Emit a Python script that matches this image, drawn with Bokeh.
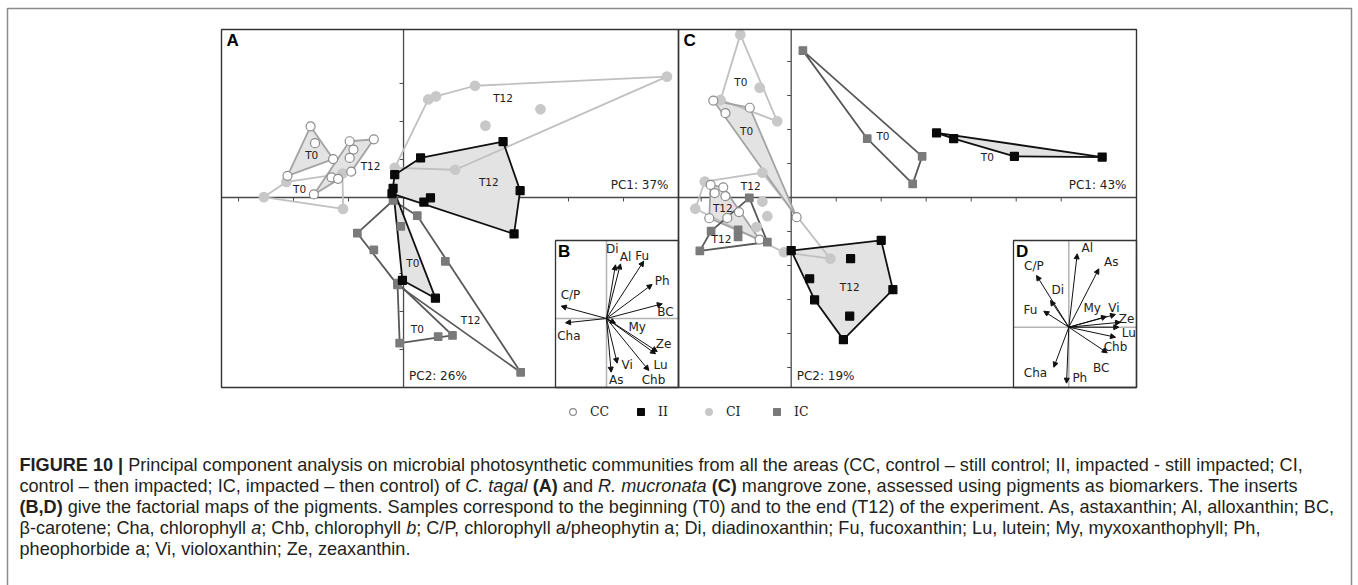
import numpy as np
from bokeh.plotting import figure
from bokeh.models import Range1d, ColumnDataSource, Arrow, NormalHead, Legend, LegendItem
from bokeh.core.properties import value
from bokeh.embed import file_html
from bokeh.resources import INLINE

W, H = 1358, 585

# ---------------- DATA: panel A (C. tagal), PCA sample scores ----------------
a_cc_t0_x = [-1.69, -1.61, -1.28, -2.11]
a_cc_t0_y = [1.87, 1.43, 1.01, 0.57]
a_cc_t12_x = [-0.98, -0.54, -0.91, -0.98, -0.95, -1.31, -1.19, -1.63]
a_cc_t12_y = [1.48, 1.53, 1.26, 1.04, 0.68, 0.53, 0.49, 0.08]
a_ci_t0_x = [-2.54, -2.13, -1.11, -1.10]
a_ci_t0_y = [0.01, 0.41, 0.63, -0.30]
a_ci_t12_x = [0.45, 0.59, 1.30, 4.79, 2.49, 1.49, 0.94, -0.16]
a_ci_t12_y = [2.58, 2.66, 2.94, 3.18, 2.32, 1.89, 0.73, 0.78]
a_ii_t0_x = [-0.19, -0.02, 0.58]
a_ii_t0_y = [0.24, -2.18, -2.65]
a_ii_t12_x = [-0.16, 0.31, 1.81, 2.12, 2.01, 0.49, 0.37, -0.21]
a_ii_t12_y = [0.60, 1.04, 1.47, 0.18, -0.96, -0.01, -0.12, 0.10]
a_ic_t0_x = [-0.11, -0.07, 0.63, 0.89]
a_ic_t0_y = [-2.25, -3.83, -3.66, -3.63]
a_ic_t12_x = [-0.19, -0.84, -0.54, -0.05, 0.25, 0.76, 2.13, -0.11]
a_ic_t12_y = [-0.08, -0.94, -1.38, -0.76, -0.48, -1.68, -4.60, -2.30]
a_lab_x = [-1.67, -0.60, -1.89, 1.81, 1.55, 0.17, 0.25, 1.22]
a_lab_y = [1.11, 0.82, 0.21, 2.62, 0.42, -1.73, -3.46, -3.22]
a_lab_t = ["T0", "T12", "T0", "T12", "T12", "T0", "T0", "T12"]
a_xticks = [-3, -2, -1, 1, 2, 3, 4]
a_yticks = [-4, -3, -2, -1, 1, 2, 3]

# ---------------- DATA: panel C (R. mucronata) ----------------
c_cc_t0_x = [-1.73, -0.92, -1.46, 0.12]
c_cc_t0_y = [2.85, 2.64, 2.48, -0.58]
c_cc_t12_x = [-1.79, -1.51, -1.70, -1.46, -1.82, -1.42, -1.16, -0.70]
c_cc_t12_y = [0.37, 0.30, 0.13, 0.04, -0.61, -0.60, -0.43, -1.24]
c_ci_t0_x = [-1.13, -0.70, -0.31, -1.57]
c_ci_t0_y = [4.79, 3.23, 2.24, 2.87]
c_ci_t12_x = [-1.92, -0.64, -2.13, -0.64, -0.53, -0.77, -0.16, 0.87]
c_ci_t12_y = [0.47, 0.73, -0.33, -0.12, -0.55, -0.87, -1.61, -1.80]
c_ii_t0_x = [3.23, 3.61, 4.96, 6.91]
c_ii_t0_y = [1.90, 1.73, 1.21, 1.19]
c_ii_t12_x = [0.00, 2.00, 2.26, 1.16, 0.52, 0.41, 1.32, 1.30]
c_ii_t12_y = [-1.56, -1.26, -2.71, -4.18, -3.01, -2.39, -1.80, -3.49]
c_ic_t0_x = [0.26, 1.69, 2.70, 2.91]
c_ic_t0_y = [4.32, 1.73, 0.40, 1.21]
c_ic_t12_x = [-0.93, -1.78, -1.18, -1.18, -0.53, -2.03]
c_ic_t12_y = [-0.01, -0.99, -0.95, -1.16, -1.31, -1.57]
c_lab_x = [-1.12, -0.99, -0.90, -1.52, -1.55, 2.04, 4.36, 1.30]
c_lab_y = [3.39, 1.97, 0.35, -0.30, -1.21, 1.82, 1.19, -2.62]
c_lab_t = ["T0", "T0", "T12", "T12", "T12", "T0", "T0", "T12"]
c_xticks = [-2, -1, 1, 2, 3, 4, 5, 6]
c_yticks = [-5, -4, -3, -2, -1, 1, 2, 3, 4]

# ---------------- DATA: pigment loadings (inserts B and D) ----------------
pig_b = ["Di", "Al", "Fu", "Ph", "BC", "C/P", "Cha", "My", "Ze", "Lu", "Chb", "Vi", "As"]
b_x = [0.15, 0.233, 0.62, 0.76, 0.93, -0.755, -0.683, 0.15, 0.845, 0.817, 0.705, 0.178, 0.078]
b_y = [0.895, 0.91, 0.955, 0.567, 0.245, 0.205, -0.072, -0.078, -0.55, -0.588, -0.867, -0.745, -0.895]
b_lx = [0.095, 0.317, 0.595, 0.928, 0.983, -0.6, -0.628, 0.512, 0.95, 0.9, 0.783, 0.345, 0.162]
b_ly = [1.162, 1.022, 1.05, 0.633, 0.105, 0.4, -0.295, -0.145, -0.433, -0.767, -1.022, -0.783, -1.033]

pig_d = ["Al", "As", "C/P", "Di", "Fu", "My", "Vi", "Ze", "Lu", "Chb", "BC", "Ph", "Cha"]
d_x = [0.14, 0.5, -0.538, -0.305, -0.417, 0.628, 0.778, 0.862, 0.833, 0.778, 0.64, -0.038, -0.25]
d_y = [1.223, 0.973, 0.862, 0.445, 0.267, 0.178, 0.212, 0.083, 0.0, -0.167, -0.427, -0.933, -0.667]
d_lx = [0.307, 0.707, -0.583, -0.183, -0.638, 0.39, 0.75, 0.962, 1.0, 0.778, 0.54, 0.183, -0.555]
d_ly = [1.323, 1.083, 1.012, 0.628, 0.295, 0.323, 0.323, 0.14, -0.1, -0.322, -0.677, -0.843, -0.767]

legend_labels = ["CC", "II", "CI", "IC"]

caption_lines = [
    [("FIGURE 10 |", "b"), (" Principal component analysis on microbial photosynthetic communities from all the areas (CC, control \u2013 still control; II, impacted - still impacted; CI,", "n")],
    [("control \u2013 then impacted; IC, impacted \u2013 then control) of ", "n"), ("C. tagal", "i"), (" ", "n"), ("(A)", "b"), (" and ", "n"), ("R. mucronata", "i"), (" ", "n"), ("(C)", "b"), (" mangrove zone, assessed using pigments as biomarkers. The inserts", "n")],
    [("(B,D)", "b"), (" give the factorial maps of the pigments. Samples correspond to the beginning (T0) and to the end (T12) of the experiment. As, astaxanthin; Al, alloxanthin; BC,", "n")],
    [("\u03b2-carotene; Cha, chlorophyll ", "n"), ("a", "i"), ("; Chb, chlorophyll ", "n"), ("b", "i"), ("; C/P, chlorophyll a/pheophytin a; Di, diadinoxanthin; Fu, fucoxanthin; Lu, lutein; My, myxoxanthophyll; Ph,", "n")],
    [("pheophorbide a; Vi, violoxanthin; Ze, zeaxanthin.", "n")],
]

# ---------------- LAYOUT (pixel boxes: left, top, right, bottom) ----------------
BOX_A, XL_A, YL_A = (221, 29, 678, 387), (-3.31, 5.0), (-5.0, 4.42)
BOX_C, XL_C, YL_C = (678, 29, 1136, 387), (-2.504, 7.673), (-5.588, 4.941)
BOX_B, XL_B, YL_B = (555, 240, 678, 387), (-0.85, 1.2), (-1.15, 1.3)
BOX_D, XL_D, YL_D = (1013, 240, 1136, 387), (-0.922, 1.128), (-1.005, 1.445)

p = figure(width=W, height=H, x_range=Range1d(0, W), y_range=Range1d(H, 0),
           output_backend="svg", toolbar_location=None, min_border=0,
           x_axis_type=None, y_axis_type=None)
p.outline_line_color = None
p.background_fill_color = "white"
p.border_fill_color = "white"


def add_ranges(name, box, xl, yl):
    L, T, R, B = box
    sx = (xl[1] - xl[0]) / (R - L)
    p.extra_x_ranges[name] = Range1d(xl[0] - L * sx, xl[0] + (W - L) * sx)
    sy = (yl[1] - yl[0]) / (B - T)
    p.extra_y_ranges[name] = Range1d(yl[0] - (H - B) * sy, yl[1] + T * sy)


for nm, bx, xl, yl in [("A", BOX_A, XL_A, YL_A), ("C", BOX_C, XL_C, YL_C),
                       ("B", BOX_B, XL_B, YL_B), ("D", BOX_D, XL_D, YL_D)]:
    add_ranges(nm, bx, xl, yl)


def hull(xs, ys):
    pts = sorted(set(zip(xs, ys)))
    if len(pts) < 3:
        return [q[0] for q in pts], [q[1] for q in pts]

    def cross(o, a, b):
        return (a[0] - o[0]) * (b[1] - o[1]) - (a[1] - o[1]) * (b[0] - o[0])
    lo, up = [], []
    for q in pts:
        while len(lo) >= 2 and cross(lo[-2], lo[-1], q) <= 0:
            lo.pop()
        lo.append(q)
    for q in reversed(pts):
        while len(up) >= 2 and cross(up[-2], up[-1], q) <= 0:
            up.pop()
        up.append(q)
    h = lo[:-1] + up[:-1]
    return [q[0] for q in h], [q[1] for q in h]


STYLE = {
    "CC": dict(line="#a3a3a3", fill="#e3e3e3", marker="circle", size=9, mfill="white", mline="#8c8c8c"),
    "CI": dict(line="#c0c0c0", fill=None, marker="circle", size=9.5, mfill="#c8c8c8", mline="#c8c8c8"),
    "II": dict(line="#111111", fill="#e3e3e3", marker="square", size=8, mfill="#0a0a0a", mline="#0a0a0a"),
    "IC": dict(line="#595959", fill=None, marker="square", size=7.5, mfill="#7a7a7a", mline="#7a7a7a"),
}
AX = "#4a4a4a"
LABEL_FONT = value("DejaVu Sans")
first_renderer = {}

panel_A_groups = [(a_cc_t0_x, a_cc_t0_y, "CC"), (a_cc_t12_x, a_cc_t12_y, "CC"),
                  (a_ci_t0_x, a_ci_t0_y, "CI"), (a_ci_t12_x, a_ci_t12_y, "CI"),
                  (a_ii_t0_x, a_ii_t0_y, "II"), (a_ii_t12_x, a_ii_t12_y, "II"),
                  (a_ic_t0_x, a_ic_t0_y, "IC"), (a_ic_t12_x, a_ic_t12_y, "IC")]
panel_C_groups = [(c_cc_t0_x, c_cc_t0_y, "CC"), (c_cc_t12_x, c_cc_t12_y, "CC"),
                  (c_ci_t0_x, c_ci_t0_y, "CI"), (c_ci_t12_x, c_ci_t12_y, "CI"),
                  (c_ii_t0_x, c_ii_t0_y, "II"), (c_ii_t12_x, c_ii_t12_y, "II"),
                  (c_ic_t0_x, c_ic_t0_y, "IC"), (c_ic_t12_x, c_ic_t12_y, "IC")]


def draw_panel(name, xl, yl, groups, lx, ly, lt, xt, yt, letter, pc1, pc2):
    kw = dict(x_range_name=name, y_range_name=name)
    p.quad(left=[xl[0]], right=[xl[1]], bottom=[yl[0]], top=[yl[1]],
           fill_color="white", line_color=None, **kw)
    p.segment(x0=[xl[0], 0], y0=[0, yl[0]], x1=[xl[1], 0], y1=[0, yl[1]],
              line_color=AX, line_width=1.3, **kw)
    p.ray(x=xt, y=[0] * len(xt), length=4, length_units="screen", angle=-np.pi / 2,
          line_color=AX, line_width=1, **kw)
    p.ray(x=[0] * len(yt), y=yt, length=4, length_units="screen", angle=np.pi,
          line_color=AX, line_width=1, **kw)
    hulls = [(hull(xs, ys), k) for xs, ys, k in groups]
    for (hx, hy), k in hulls:
        if STYLE[k]["fill"]:
            p.patch(hx, hy, fill_color=STYLE[k]["fill"], line_color=None, **kw)
    for kind in ["CI", "CC", "IC", "II"]:
        for (hx, hy), k in hulls:
            if k == kind:
                p.patch(hx, hy, fill_color=None, line_color=STYLE[k]["line"],
                        line_width=1.8, line_join="round", **kw)
    for kind in ["CI", "CC", "IC", "II"]:
        for xs, ys, k in groups:
            if k == kind:
                st = STYLE[k]
                r = p.scatter(xs, ys, marker=st["marker"], size=st["size"], fill_color=st["mfill"],
                              line_color=st["mline"], line_width=1.2, **kw)
                first_renderer.setdefault(k, r)
    p.text(x=lx, y=ly, text=lt, text_font=LABEL_FONT, text_font_size="10.5px",
           text_color="#222222", text_align="center", text_baseline="middle", **kw)
    dx = (xl[1] - xl[0])
    dy = (yl[1] - yl[0])
    p.text(x=[xl[0] + 0.011 * dx], y=[yl[1] - 0.004 * dy], text=[letter],
           text_font=value("Liberation Sans"), text_font_style="bold", text_font_size="17px",
           text_color="#000000", text_align="left", text_baseline="top", **kw)
    p.text(x=[xl[1] - 0.022 * dx], y=[0.035 * dy], text=[pc1], text_font=LABEL_FONT,
           text_font_size="12px", text_color="#222222", text_align="right",
           text_baseline="middle", **kw)
    p.text(x=[0.012 * dx], y=[yl[0] + 0.033 * dy], text=[pc2], text_font=LABEL_FONT,
           text_font_size="12px", text_color="#222222", text_align="left",
           text_baseline="middle", **kw)


def draw_inset(name, xl, yl, names, ax, ay, lx, ly, letter):
    kw = dict(x_range_name=name, y_range_name=name)
    p.quad(left=[xl[0]], right=[xl[1]], bottom=[yl[0]], top=[yl[1]],
           fill_color="white", line_color=None, **kw)
    p.segment(x0=[xl[0], 0], y0=[0, yl[0]], x1=[xl[1], 0], y1=[0, yl[1]],
              line_color="#b3b3b3", line_width=1.5, **kw)
    src = ColumnDataSource(dict(x0=[0.0] * len(ax), y0=[0.0] * len(ax), x1=ax, y1=ay))
    p.add_layout(Arrow(end=NormalHead(size=5, fill_color="#111111", line_color="#111111", line_width=1),
                       x_start="x0", y_start="y0", x_end="x1", y_end="y1", source=src,
                       line_color="#111111", line_width=1, **kw))
    p.text(x=lx, y=ly, text=names, text_font=LABEL_FONT, text_font_size="12px",
           text_color="#222222", text_align="center", text_baseline="middle", **kw)
    dx = (xl[1] - xl[0])
    dy = (yl[1] - yl[0])
    p.text(x=[xl[0] + 0.02 * dx], y=[yl[1] - 0.01 * dy], text=[letter],
           text_font=value("Liberation Sans"), text_font_style="bold", text_font_size="17px",
           text_color="#000000", text_align="left", text_baseline="top", **kw)
    p.quad(left=[xl[0]], right=[xl[1]], bottom=[yl[0]], top=[yl[1]],
           fill_color=None, line_color="#333333", line_width=1.3, **kw)


draw_panel("A", XL_A, YL_A, panel_A_groups, a_lab_x, a_lab_y, a_lab_t, a_xticks, a_yticks,
           "A", "PC1: 37%", "PC2: 26%")
draw_panel("C", XL_C, YL_C, panel_C_groups, c_lab_x, c_lab_y, c_lab_t, c_xticks, c_yticks,
           "C", "PC1: 43%", "PC2: 19%")
draw_inset("B", XL_B, YL_B, pig_b, b_x, b_y, b_lx, b_ly, "B")
draw_inset("D", XL_D, YL_D, pig_d, d_x, d_y, d_lx, d_ly, "D")

for nm, xl, yl in [("A", XL_A, YL_A), ("C", XL_C, YL_C)]:
    p.quad(left=[xl[0]], right=[xl[1]], bottom=[yl[0]], top=[yl[1]], fill_color=None,
           line_color="#333333", line_width=1.4, x_range_name=nm, y_range_name=nm)

# outer figure frame
p.quad(left=[7], right=[1351], top=[8], bottom=[600], fill_color=None,
       line_color="#8a8a8a", line_width=1.5)

# legend (uses the sample renderers of each area type)
legend = Legend(items=[LegendItem(label=l, renderers=[first_renderer[l]]) for l in legend_labels],
                orientation="horizontal", location=(564, H - 420),
                label_text_font="DejaVu Serif", label_text_font_size="12.5px",
                label_text_color="#222222", glyph_width=17, glyph_height=17,
                label_height=17, label_standoff=9, spacing=22, padding=0, margin=0,
                border_line_color=None, background_fill_alpha=0)
p.add_layout(legend, "center")

# caption with mixed styles (Arial/Helvetica metrics to place segments)
REG = {' ': 278, '(': 333, ')': 333, ',': 278, '-': 333, '.': 278, '/': 278, ':': 278, ';': 278,
       '|': 260, '\u2013': 556, '\u03b2': 575}
REG.update({c: 556 for c in "0123456789"})
REG.update(dict(A=667, B=667, C=722, D=722, E=667, F=611, G=778, H=722, I=278, J=500, K=667, L=556,
                M=833, N=722, O=778, P=667, Q=778, R=722, S=667, T=611, U=722, V=667, W=944, X=667,
                Y=667, Z=611))
REG.update(dict(a=556, b=556, c=500, d=556, e=556, f=278, g=556, h=556, i=222, j=222, k=500, l=222,
                m=833, n=556, o=556, p=556, q=556, r=333, s=500, t=278, u=556, v=500, w=722, x=500,
                y=500, z=500))
BOLD = dict(REG)
BOLD.update({'|': 280, 'A': 722, 'B': 722, 'C': 722, 'D': 722, 'R': 722, 'U': 722, 'G': 778})


def units(s, style):
    tab = BOLD if style == "b" else REG
    return sum(tab.get(ch, 556) for ch in s)


CAP_X0, CAP_X1 = 19, 1336
widest = max(sum(units(s, st) for s, st in line) for line in caption_lines)
fs = (CAP_X1 - CAP_X0) / (widest / 1000.0)
base_y = [464, 485, 506, 527, 548]
cap = {"n": ([], [], []), "b": ([], [], []), "i": ([], [], [])}
for line, by in zip(caption_lines, base_y):
    cur = CAP_X0
    for s, st in line:
        lead = len(s) - len(s.lstrip(" "))
        txt = s.strip(" ")
        if txt:
            cap[st][0].append(cur + units(" " * lead, st) * fs / 1000.0)
            cap[st][1].append(by)
            cap[st][2].append(txt)
        cur += units(s, st) * fs / 1000.0
for st, (xs, ys, ts) in cap.items():
    p.text(x=xs, y=ys, text=ts, text_font=value("Liberation Sans"),
           text_font_size="%.2fpx" % fs,
           text_font_style={"n": "normal", "b": "bold", "i": "italic"}[st],
           text_color="#231f20", text_align="left", text_baseline="alphabetic")

open("out.html", "w").write(file_html(p, INLINE))
